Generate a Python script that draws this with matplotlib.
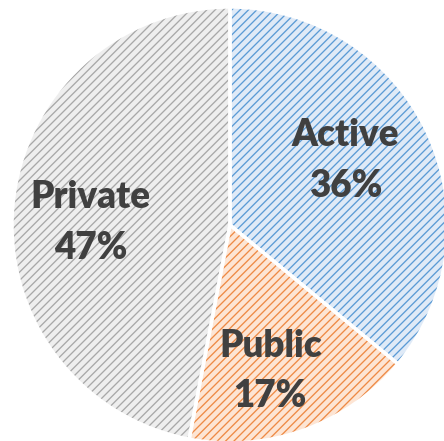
import matplotlib.pyplot as plt

labels = ["Active", "Public", "Private"]
shares = [36, 17, 47]
fills = ["#dfeaf7", "#fde5d4", "#eeeeee"]
hatches = ["#5b9bd5", "#ee8a45", "#a8a8a8"]
# label centres (pie radius = 1)
label_xy = [(0.53, 0.295), (0.185, -0.67), (-0.64, 0.01)]

plt.rcParams['hatch.linewidth'] = 0.95

fig = plt.figure(figsize=(4.44, 4.41), dpi=100)
ax = fig.add_axes([12 / 444, -2 / 441, 436 / 444, 436 / 441])

# first pass: fill + hatch (edgecolor drives hatch colour)
wedges, _ = ax.pie(shares, startangle=90, counterclock=False, radius=1,
                   colors=fills, wedgeprops=dict(linewidth=0))
for w, hc in zip(wedges, hatches):
    w.set_hatch("////")
    w.set_edgecolor(hc)

# second pass: white borders
ax.pie(shares, startangle=90, counterclock=False, radius=1,
       colors=["none"] * 3,
       wedgeprops=dict(edgecolor="white", linewidth=2.5))

for lab, s, (x, y) in zip(labels, shares, label_xy):
    ax.text(x, y, f"{lab}\n{s}%", ha="center", va="center",
            fontsize=26.5, fontweight="heavy", color="#404040",
            family=["Lato", "DejaVu Sans"], linespacing=1.6)

ax.set_xlim(-1, 1)
ax.set_ylim(-1, 1)
ax.set_aspect("equal")
ax.axis("off")

fig.savefig("out.png", dpi=100)
